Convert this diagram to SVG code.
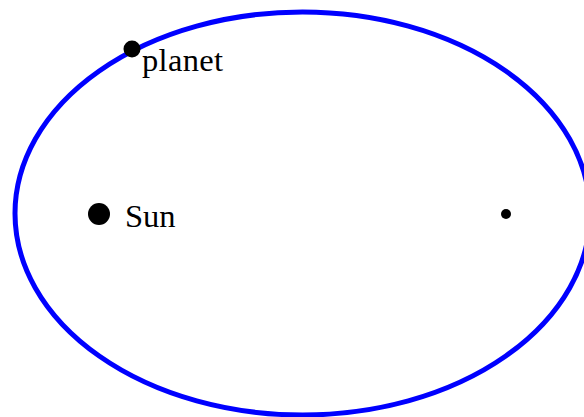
<svg xmlns="http://www.w3.org/2000/svg" width="584" height="417" viewBox="0 0 584 417">
<style>
.orbit{fill:none;stroke:#0000ff;stroke-width:5}
.dot{fill:#000}
.lbl{font-family:"Liberation Serif","Times New Roman",serif;font-size:32.5px;fill:#000}
</style>
<rect width="584" height="417" fill="#fff"/>
<g id="orbit"><ellipse class="orbit" cx="302.5" cy="213.5" rx="287.5" ry="201.5"/></g>
<g id="sun"><circle class="dot" cx="99" cy="214" r="11"/><text class="lbl" x="125" y="227">Sun</text></g>
<g id="focus"><circle class="dot" cx="506" cy="214" r="5"/></g>
<g id="planet"><circle class="dot" cx="132" cy="49" r="8.5"/><text class="lbl" x="142" y="71" textLength="81">planet</text></g>
</svg>
